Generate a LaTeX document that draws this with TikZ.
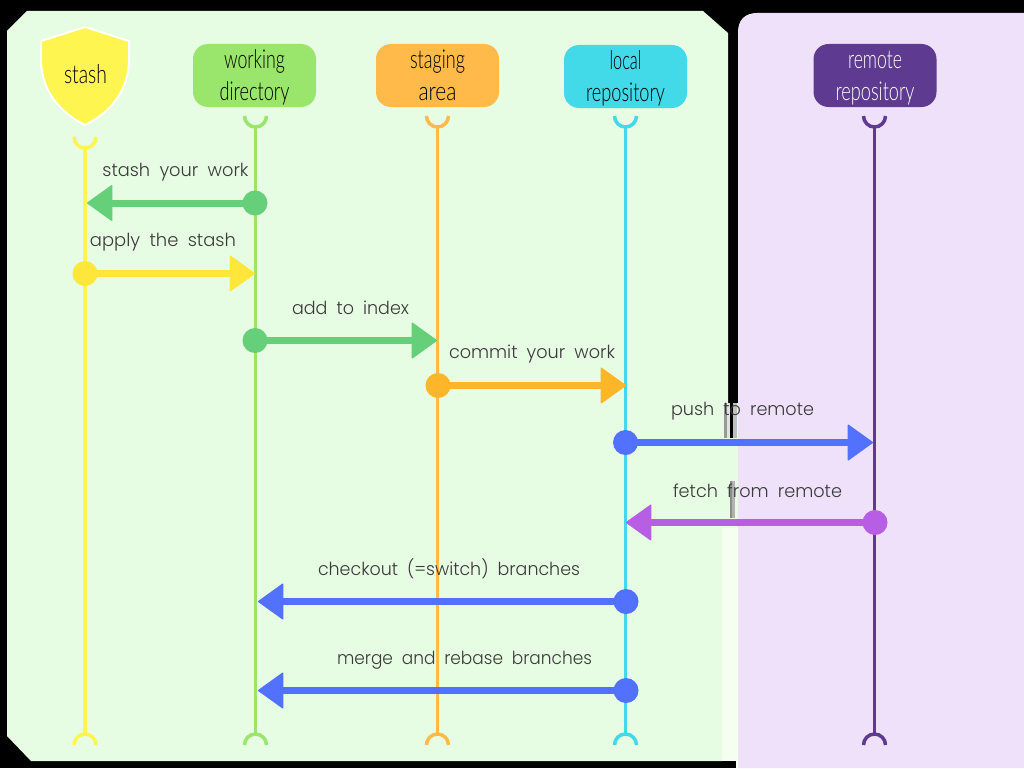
\documentclass[tikz,border=0pt]{standalone}
\usepackage{fontspec}
\usepackage{graphicx}
\usetikzlibrary{arrows.meta}
\newfontfamily\labelfont[UprightFont=* Light,WordSpace=1.9]{Poppins}
\newfontfamily\handfont[UprightFont=* Light]{Lato}
\definecolor{panelgreen}{HTML}{E7FDE3}
\definecolor{palegreen}{HTML}{F4FFF2}
\definecolor{panelpurple}{HTML}{F0E1FB}
\definecolor{cstash}{HTML}{FFF550}
\definecolor{cwork}{HTML}{9AE56B}
\definecolor{cstage}{HTML}{FFBA4A}
\definecolor{clocal}{HTML}{42D9E8}
\definecolor{cremote}{HTML}{5E3B91}
\definecolor{agreen}{HTML}{66CF7A}
\definecolor{ayellow}{HTML}{FFE63A}
\definecolor{aorange}{HTML}{FDB52A}
\definecolor{ablue}{HTML}{5271FF}
\definecolor{apurple}{HTML}{B85EE5}
\definecolor{ink}{HTML}{3A3A3A}
\newcommand{\hw}[2]{\raisebox{-3pt}[\height][\depth]{\resizebox{#1pt}{\height}{\strut #2}}}
\newcommand{\lb}[2]{\resizebox{#1pt}{\height}{#2}}
\tikzset{
  box/.style={rounded corners=15pt,minimum width=123pt,minimum height=63pt,inner sep=0pt,align=center,font=\handfont\fontsize{26}{30}\selectfont,text=black},
  life/.style={line width=3.5pt},
  dotnode/.style={circle,minimum size=25pt,inner sep=0pt},
  flow/.style={line width=7pt,-{Triangle[length=26pt,width=37pt,line width=1.5pt,round]}},
  msg/.style={anchor=base,inner sep=0pt,font=\labelfont\fontsize{18}{20}\selectfont,text=ink},
}
\begin{document}
\begin{tikzpicture}[x=1pt,y=-1pt]
\useasboundingbox (0,0) rectangle (1024,768);
\fill[black] (0,0) rectangle (1024,768);
% panels
\fill[panelgreen] (7,31) -- (27,11) -- (703,11) -- (728,33) -- (728,403) -- (738,403) -- (738,528) -- (722,528) -- (722,761) -- (31,761) -- (7,736) -- cycle;
\fill[palegreen] (722,528) rectangle (738,761);
\fill[palegreen] (736,761) rectangle (738,768);
\fill[panelpurple] (738,768) -- (738,32) .. controls (738,20) and (745,13) .. (757,13) -- (1024,13) -- (1024,768) -- cycle;
% stray stripes
\fill[black!40] (724,403) rectangle (726.5,438);
\fill[black!12] (726.5,403) rectangle (730,438);
\fill[black] (730,403) rectangle (733,438);
\fill[black!25] (733,403) rectangle (737,438);
\fill[black!45] (730,481) rectangle (732,518);
\fill[black!30] (732,481) rectangle (735,518);
% coordinates of lifelines
\foreach \n/\x/\ya in {s/85/148,w/255.5/127,g/437.5/127,l/625.5/127,r/874.5/127}{
  \coordinate (\n top) at (\x,\ya);
  \coordinate (\n bot) at (\x,734);
}
% lifelines with cups
\foreach \n/\c in {s/cstash,w/cwork,g/cstage,l/clocal,r/cremote}{
  \draw[life,\c] (\n top) -- (\n bot);
  \draw[life,\c] (\n bot) ++(-11,11) arc[start angle=180,end angle=360,radius=11];
  \draw[life,\c] (\n top) ++(-11,-11) arc[start angle=180,end angle=0,radius=11];
}
% heads
\draw[white,line width=2pt,fill=cstash,line join=round] (85,27) -- (41,41) -- (41,60) .. controls (41,92) and (62,114) .. (85,125) .. controls (108,114) and (129,92) .. (129,60) -- (129,41) -- cycle;
\node[anchor=base,inner sep=0pt,font=\handfont\fontsize{26}{30}\selectfont,text=black] (stash) at (85.5,83) {\resizebox{43pt}{\height}{stash}};
\node[box,fill=cwork] (work) at (254.5,75.5) {\hw{61}{working}\\\hw{70}{directory}};
\node[box,fill=cstage] (stage) at (437.5,75.5) {\hw{55}{staging}\\\hw{38}{area}};
\node[box,fill=clocal] (local) at (625.5,76.5) {\hw{32}{local}\\\hw{79}{repository}};
\node[box,fill=cremote,text=white] (remote) at (875,75.5) {\hw{54}{remote}\\\hw{79}{repository}};
% arrows
\foreach \nm/\x/\y/\tx/\c in {
  a/255/203/87/agreen,
  b/85/273.5/255/ayellow,
  c/255/340.5/437/agreen,
  d/438/385.5/626/aorange,
  e/625.5/442.5/873/ablue,
  f/875/522.5/626/apurple,
  h/626/601.5/258/ablue,
  i/626/690.5/258/ablue}{
  \coordinate (tip\nm) at (\tx,\y);
  \node[dotnode,fill=\c] (dot\nm) at (\x,\y) {};
  \draw[flow,\c] (dot\nm.center) -- (tip\nm);
}
% labels
\node[msg] (la) at (175.5,176) {\lb{146}{stash your work}};
\node[msg] (lb) at (163,246) {\lb{146}{apply the stash}};
\node[msg] (lc) at (350.5,314) {\lb{117}{add to index}};
\node[msg] (ld) at (532,358) {\lb{166}{commit your work}};
\node[msg] (le) at (742.5,415) {\lb{143}{push to remote}};
\node[msg] (lf) at (757.5,497) {\lb{169}{fetch from remote}};
\node[msg] (lh) at (449,575) {\lb{262}{checkout (=switch) branches}};
\node[msg] (li) at (464.5,664) {\lb{255}{merge and rebase branches}};
\end{tikzpicture}
\end{document}
